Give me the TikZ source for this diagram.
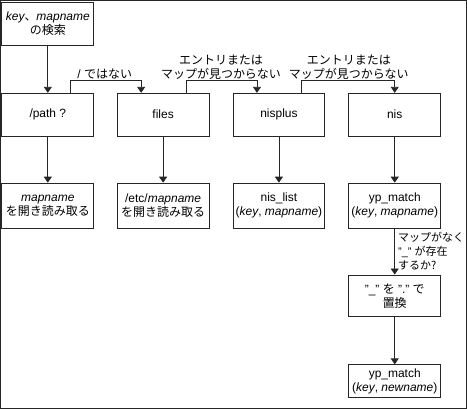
\documentclass[tikz,border=0pt]{standalone}
\usepackage{fontspec}
\setmainfont{Liberation Sans}
\newfontfamily\jp{Noto Sans CJK JP}
\usetikzlibrary{arrows.meta}

\begin{document}
\begin{tikzpicture}[%
        x = 1pt,
        y = -1pt,
        line width = 0.8pt,
        > = {Triangle[width = 8pt, length = 6pt]},
        font = \fontsize{12}{14}\selectfont,
        every path/.style = {
            draw = black!85
        },
        box/.style = {
            draw = black!85,
            align = center,
            minimum width = 92pt,
            minimum height = 44pt,
            inner sep = 0pt
        },
        lbl/.style = {
            align = center,
            inner sep = 0pt
        }
    ]

        % Keep the page as large as the drawing.
        \useasboundingbox (0, 0) rectangle (467, 409);

        % Box where the lookup starts.
        \node[box, minimum height = 43pt] at (47.5, 23.5) (search)
            {\itshape key{\jp 、}mapname\\{\jp の検索}};

        % Row of sources that are tried in turn.
        \node[box, minimum height = 43pt] at (47.5, 114.5) (pathchk) {/path ?};
        \node[box, minimum height = 43pt] at (163, 114.5) (files) {files};
        \node[box, minimum height = 43pt] at (279, 114.5) (nisplus) {nisplus};
        \node[box, minimum height = 43pt] at (395, 114.5) (nis) {nis};

        % Row of actions taken by each source.
        \node[box, minimum height = 45pt] at (47.5, 205.5) (openmap)
            {\textit{mapname}\\{\jp を開き読み取る}};
        \node[box, minimum height = 45pt] at (163, 205.5) (openetc)
            {/etc/\textit{mapname}\\{\jp を開き読み取る}};
        \node[box, minimum height = 45pt] at (279, 205.5) (nislist)
            {nis\_list\\(\textit{key}, \textit{mapname})};
        \node[box, minimum height = 45pt] at (395, 205.5) (ypmatch)
            {yp\_match\\(\textit{key}, \textit{mapname})};

        % Retry with a changed map name.
        \node[box, minimum height = 42pt] at (395, 296) (replace)
            {"\_" {\jp を} "." {\jp で}\\{\jp 置換}};
        \node[box, minimum height = 33pt] at (395, 381.5) (ypnew)
            {yp\_match\\(\textit{key}, \textit{newname})};

        % Labels on the fall-through paths.
        \node[lbl] at (104.5, 74) (notslash) {/ {\jp ではない}};
        \node[lbl] at (221, 66.5) (miss1)
            {\jp エントリまたは\\\jp マップが見つからない};
        \node[lbl] at (349, 66.5) (miss2)
            {\jp エントリまたは\\\jp マップが見つからない};
        \node[lbl, align = left, anchor = west,
              font = \fontsize{11}{14}\selectfont] at (398, 251) (nomap)
            {{\jp マップがなく}\\"\_" {\jp が存在}\\{\jp するか?}};

        % Straight arrows down the columns.
        \draw[->] (search) -- (pathchk);
        \draw[->] (pathchk) -- (openmap);
        \draw[->] (files) -- (openetc);
        \draw[->] (nisplus) -- (nislist);
        \draw[->] (nis) -- (ypmatch);
        \draw[->] (ypmatch) -- (replace);
        \draw[->] (replace) -- (ypnew);

        % Arrows from one source to the next.
        \draw[->] ([xshift = 22.5pt]pathchk.north) -- ++(0, -12)
            -| ([xshift = -22pt]files.north);
        \draw[->] ([xshift = 23pt]files.north) -- ++(0, -12)
            -| ([xshift = -22pt]nisplus.north);
        \draw[->] ([xshift = 23pt]nisplus.north) -- ++(0, -12)
            -| (nis.north);
    \end{tikzpicture}
\end{document}
